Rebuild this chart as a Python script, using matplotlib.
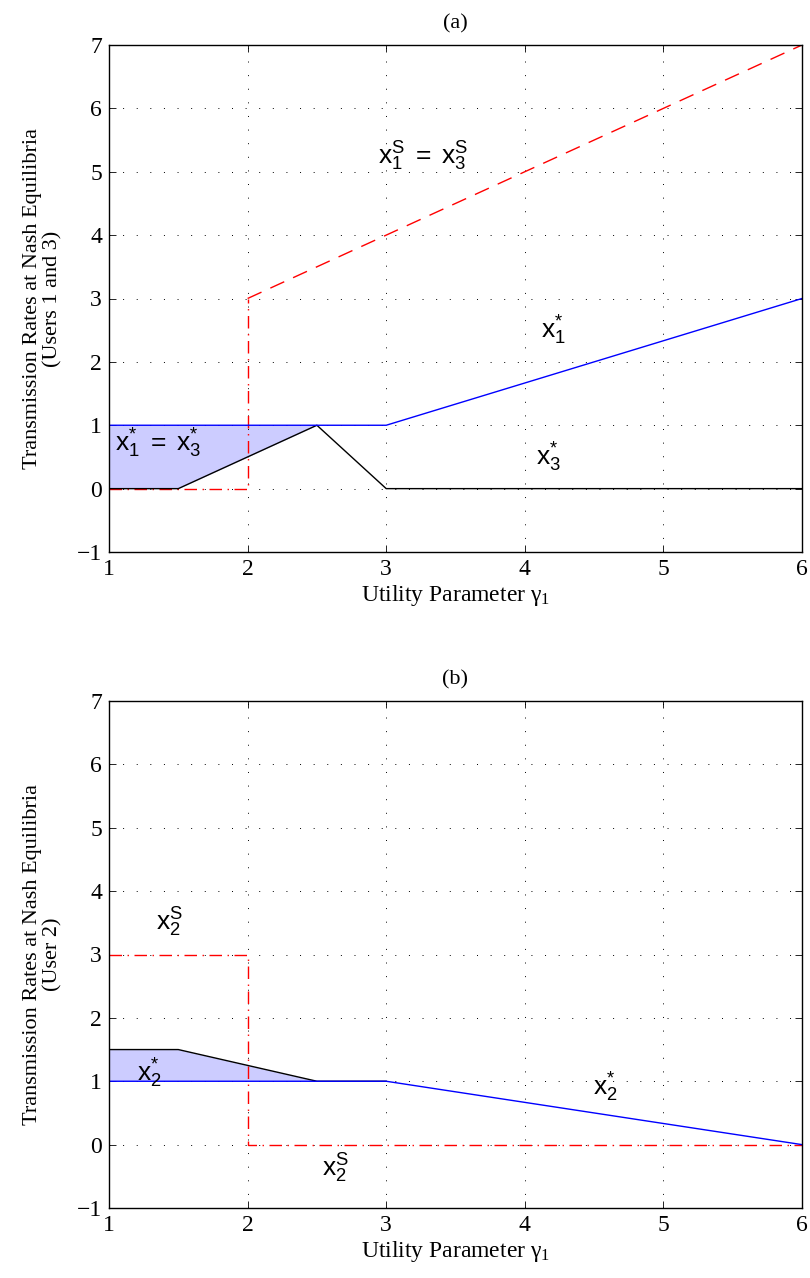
import matplotlib
matplotlib.use("Agg")
import matplotlib.pyplot as plt

plt.rcParams['font.family'] = ['Liberation Serif', 'DejaVu Serif']
plt.rcParams['mathtext.fontset'] = 'custom'
plt.rcParams['mathtext.rm'] = 'Liberation Serif'
plt.rcParams['mathtext.it'] = 'Liberation Serif'
plt.rcParams['mathtext.sf'] = 'Liberation Sans'

# Utility parameter gamma_1
gamma = [1, 1.5, 2, 2.5, 3, 6]

# (a) users 1 and 3
x1_star_g = [1, 3, 6]
x1_star = [1, 1, 3]
x3_star_g = [1, 1.5, 2.5, 3, 6]
x3_star = [0, 0, 1, 0, 0]
xs13_low_g = [1, 2, 2]
xs13_low = [0, 0, 3]
xs13_high_g = [2, 6]
xs13_high = [3, 7]
fill_a_g = [1, 1.5, 2.5]
fill_a_lo = [0, 0, 1]
fill_a_hi = [1, 1, 1]

# (b) user 2
x2_star_g = [1, 3, 6]
x2_star = [1, 1, 0]
x2_upper_g = [1, 1.5, 2.5, 3]
x2_upper = [1.5, 1.5, 1, 1]
x2s_g = [1, 2, 2, 6]
x2s = [3, 3, 0, 0]
fill_b_g = [1, 1.5, 2.5]
fill_b_lo = [1, 1, 1]
fill_b_hi = [1.5, 1.5, 1]

xticks = [1, 2, 3, 4, 5, 6]
yticks = [-1, 0, 1, 2, 3, 4, 5, 6, 7]

fig = plt.figure(figsize=(8.1, 12.78), dpi=100)
W, H = 810, 1278
left, right = 109, 802
ax_a = fig.add_axes([left / W, 1 - 552 / H, (right - left) / W, 507 / H])
ax_b = fig.add_axes([left / W, 1 - 1208 / H, (right - left) / W, 507 / H])

fill_col = (0.8, 0.8, 1.0)
tfs = 17
lab_sans = dict(fontsize=19, ha='left', va='center')
dashdot = (0, (9, 4, 1, 4))
dashed = (0, (11, 7))


def style(ax, title, ylabel):
    ax.set_xlim(1, 6)
    ax.set_ylim(-1, 7)
    ax.set_xticks(xticks)
    ax.set_yticks(yticks)
    ax.set_yticklabels(['\u22121' if v == -1 else str(v) for v in yticks])
    ax.grid(True, color='black', linestyle=(0, (1, 13)), linewidth=0.7)
    ax.tick_params(direction='in', top=True, right=True, length=5,
                   width=0.6, labelsize=tfs, pad=5)
    for s in ax.spines.values():
        s.set_linewidth(1.0)
    ax.set_title(title, fontsize=16, pad=12)
    ax.set_xlabel(r'Utility Parameter $\gamma_1$', fontsize=17, labelpad=2)
    ax.set_ylabel(ylabel, fontsize=16, labelpad=10, linespacing=1.1)


# ---- (a)
ax_a.fill_between(fill_a_g, fill_a_lo, fill_a_hi, color=fill_col, linewidth=0)
ax_a.plot(xs13_low_g, xs13_low, color='red', linestyle=dashdot, linewidth=1)
ax_a.plot(xs13_high_g, xs13_high, color='red', linestyle=dashed, linewidth=1)
ax_a.plot(x3_star_g, x3_star, color='black', linewidth=1)
ax_a.plot(x1_star_g, x1_star, color='blue', linewidth=1)
ax_a.text(2.94, 5.25, r'$\mathsf{x}_\mathsf{1}^\mathsf{S}\ \mathsf{=}\ \mathsf{x}_\mathsf{3}^\mathsf{S}$', **lab_sans)
ax_a.text(4.12, 2.5, r'$\mathsf{x}_\mathsf{1}^\mathsf{*}$', **lab_sans)
ax_a.text(4.08, 0.5, r'$\mathsf{x}_\mathsf{3}^\mathsf{*}$', **lab_sans)
ax_a.text(1.04, 0.72, r'$\mathsf{x}_\mathsf{1}^\mathsf{*}\ \mathsf{=}\ \mathsf{x}_\mathsf{3}^\mathsf{*}$', **lab_sans)
style(ax_a, '(a)', 'Transmission Rates at Nash Equilibria\n(Users 1 and 3)')

# ---- (b)
ax_b.fill_between(fill_b_g, fill_b_lo, fill_b_hi, color=fill_col, linewidth=0)
ax_b.plot(x2s_g, x2s, color='red', linestyle=dashdot, linewidth=1)
ax_b.plot(x2_upper_g, x2_upper, color='black', linewidth=1)
ax_b.plot(x2_star_g, x2_star, color='blue', linewidth=1)
ax_b.text(1.34, 3.5, r'$\mathsf{x}_\mathsf{2}^\mathsf{S}$', **lab_sans)
ax_b.text(1.2, 1.12, r'$\mathsf{x}_\mathsf{2}^\mathsf{*}$', **lab_sans)
ax_b.text(4.49, 0.9, r'$\mathsf{x}_\mathsf{2}^\mathsf{*}$', **lab_sans)
ax_b.text(2.54, -0.38, r'$\mathsf{x}_\mathsf{2}^\mathsf{S}$', **lab_sans)
style(ax_b, '(b)', 'Transmission Rates at Nash Equilibria\n(User 2)')

fig.savefig('out.png', dpi=100)
